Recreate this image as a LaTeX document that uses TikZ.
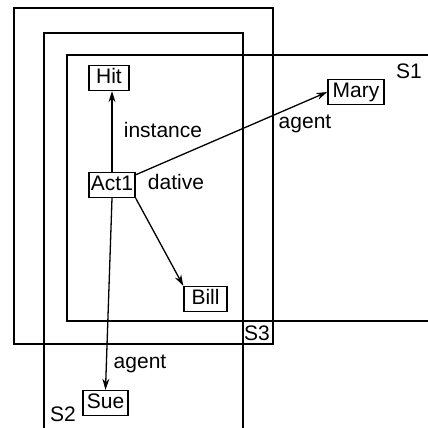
\documentclass[tikz,border=0pt]{standalone}
\usepackage{fontspec}
\setmainfont{Liberation Sans}
\usetikzlibrary{arrows.meta}
\begin{document}
\begin{tikzpicture}[x=1pt,y=-1pt,
  every node/.style={font=\fontsize{21}{23}\selectfont},
  concept/.style={draw,line width=1.4pt,inner xsep=2pt,inner ysep=3pt,text height=15pt,text depth=4pt},
  lbl/.style={inner sep=0pt},
  region/.style={line width=1.4pt},
  arr/.style={line width=1.3pt,-{Stealth[length=11pt,width=7pt]}}]
\useasboundingbox (0,0) rectangle (428,428);
% regions
\draw[region] (14,8) rectangle (273,344);
\draw[region] (44,428) -- (44,33) -- (243,33) -- (243,428);
\draw[region] (428,55) -- (67,55) -- (67,321) -- (428,321);
\node[lbl] (s1) at (409,71) {S1};
\node[lbl] (s2) at (63,414) {S2};
\node[lbl] (s3) at (257,333) {S3};
% concepts
\node[concept,minimum width=40pt] (hit) at (109,78) {Hit};
\node[concept,minimum width=45pt] (act) at (112,185) {Act1};
\node[concept,minimum width=56pt] (mary) at (356,92) {Mary};
\node[concept,minimum width=43pt] (bill) at (205.5,299) {Bill};
\node[concept,minimum width=45pt] (sue) at (105.5,403) {Sue};
% arrows
\draw[arr] (act.north) -- (act.north |- hit.south);
\draw[arr] (act) -- (mary.west);
\draw[arr] (act.south east) -- (bill.north west);
\draw[arr] (act.south) -- (sue.north);
% labels
\node[lbl] (linst) at (163,130) {instance};
\node[lbl] (lag1) at (305,124) {agent};
\node[lbl] (ldat) at (176,182) {dative};
\node[lbl] (lag2) at (140,364) {agent};
\end{tikzpicture}
\end{document}
